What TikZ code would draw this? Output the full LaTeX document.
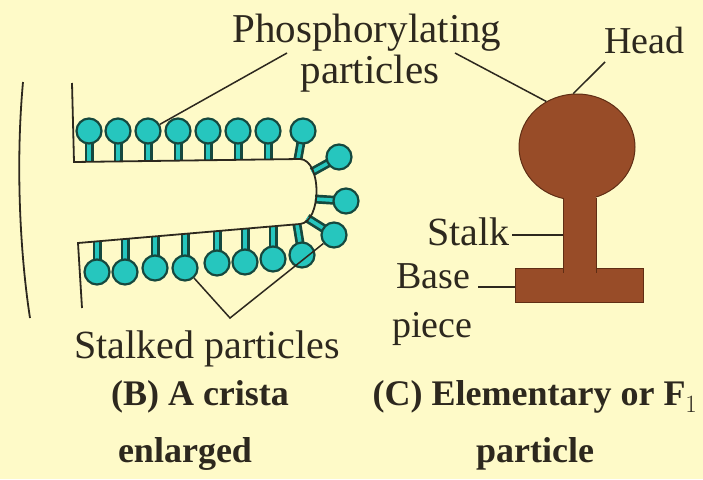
\documentclass[tikz,border=0pt]{standalone}
\usepackage{fontspec}
\setmainfont{Liberation Serif}
\usetikzlibrary{backgrounds,shapes.geometric}
\definecolor{paper}{RGB}{254,250,200}
\definecolor{ink}{RGB}{45,40,30}
\definecolor{bead}{RGB}{38,198,190}
\definecolor{beadline}{RGB}{22,72,62}
\definecolor{rust}{RGB}{152,76,40}
\definecolor{rustline}{RGB}{95,45,20}
\begin{document}
\begin{tikzpicture}[x=1pt,y=-1pt,
  lbl/.style={font=\fontsize{40}{44}\selectfont, text=ink, inner sep=0pt},
  smalllbl/.style={font=\fontsize{38}{42}\selectfont, text=ink, inner sep=0pt},
  biglbl/.style={font=\fontsize{41}{44}\selectfont, text=ink, inner sep=0pt},
  captiontext/.style={font=\fontsize{36}{40}\selectfont\bfseries, text=ink, inner sep=0pt},
  bead/.style={circle, draw=beadline, fill=bead, line width=2.2pt, minimum size=25pt, inner sep=0pt},
  stalkout/.style={draw=beadline, line width=9pt},
  stalkin/.style={draw=bead, line width=3.6pt},
  membrane/.style={draw=ink, line width=1.8pt},
  pointer/.style={draw=ink, line width=1.5pt},
  rustpart/.style={fill=rust, draw=rustline, line width=1pt, inner sep=0pt},
]
\useasboundingbox (0,0) rectangle (703,479);
\begin{scope}[on background layer]
  \fill[paper] (0,0) rectangle (703,479);
\end{scope}

% ---- crista: stalked particles (name / centre / foot on the membrane)
\foreach \n/\cx/\cy/\mx/\my in {
  t1/89/131/89/161.8, t2/118/131/118/161.4, t3/148/131/148/161,
  t4/178/131/178/160.6, t5/208/131/208/160.2, t6/238/131/238/159.8,
  t7/268/131/268/159.4, t8/303/131/298/159,
  r1/339/157/312/172, r2/346/201/315/199,
  b1/97/272/97/241.4, b2/125/272/125/239, b3/155/268/155/236.4,
  b4/185/268/185/233.8, b5/217/263/217/231.1, b6/245/262/245/228.7,
  b7/273/259/273/226.3, b8/302/255/297/224.5, b9/334/235/307/218}
{
  \coordinate (m\n) at (\mx,\my);
  \node[bead] (\n) at (\cx,\cy) {};
  \begin{pgfonlayer}{background}
    \draw[stalkout] (\n.center) -- (m\n);
    \draw[stalkin] (\n.center) -- (m\n);
  \end{pgfonlayer}
}

% ---- crista membrane and outer membrane
\draw[membrane] (72,83) -- (74,162) -- (300,159)
  .. controls (322,160) and (322,222) .. (300,224) -- (78,243) -- (82,308);
\draw[membrane] (23,82) .. controls (15,170) and (21,260) .. (30,318);

% ---- elementary particle
\node[rustpart, ellipse, minimum width=116pt, minimum height=106pt] (head) at (577,147) {};
\node[rustpart, minimum width=128pt, minimum height=34pt] (base) at (579,285) {};
\node[rustpart, minimum width=33pt, minimum height=74pt] (neck) at (579.5,235) {};
\fill[rust] ([shift={(1,-7)}]neck.north west) rectangle ([shift={(-1,7)}]neck.south east);

% ---- labels
\node[biglbl, anchor=base] (phos1) at (367,42) {Phosphorylating};
\node[biglbl, anchor=base] (phos2) at (370,83) {particles};
\node[smalllbl, anchor=base west] (headl) at (604,53) {Head};
\node[lbl, anchor=base east] (stalkl) at (510,245) {Stalk};
\node[smalllbl, anchor=base west] (basel) at (396,288) {Base};
\node[smalllbl, anchor=base west] (piecel) at (392,337) {piece};
\node[lbl, anchor=base] (stalked) at (207,358) {Stalked particles};
\node[captiontext, anchor=base] (capB1) at (200,405) {(B) A crista};
\node[captiontext, anchor=base] (capB2) at (185,462) {enlarged};
\node[captiontext, anchor=base] (capC1) at (535,405) {(C) Elementary or F$_1$};
\node[captiontext, anchor=base] (capC2) at (535,462) {particle};

% ---- pointer lines
\coordinate (phA) at (287,53);
\coordinate (phB) at (455,53);
\coordinate (hd) at (605,62);
\coordinate (stk) at (512,235);
\coordinate (bs) at (478,287);
\coordinate (vee) at (230,318);
\draw[pointer] (phA) -- (t3);
\draw[pointer] (phB) -- (head.124);
\draw[pointer] (hd) -- (head.94);
\draw[pointer] (stk) -- (neck.west |- stk);
\draw[pointer] (bs) -- (base.west |- bs);
\draw[pointer] (b4) -- (vee) -- (b9);
\end{tikzpicture}
\end{document}
